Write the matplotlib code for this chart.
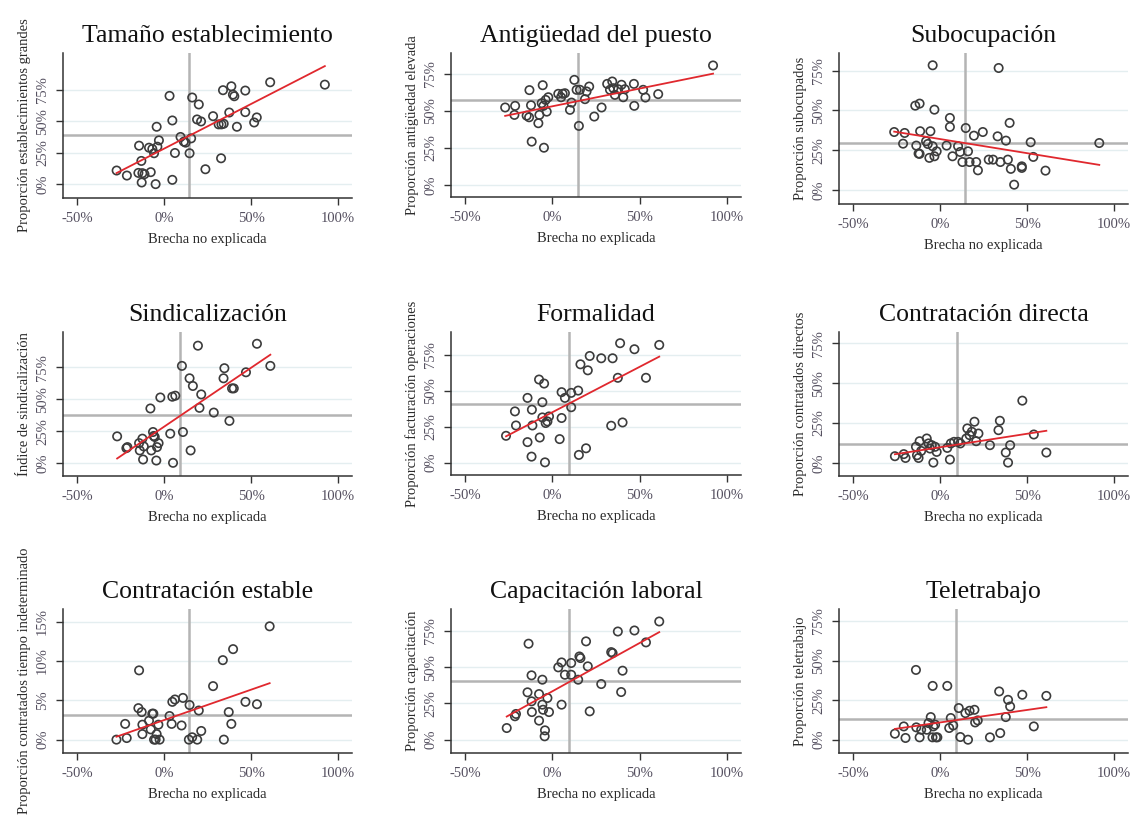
import matplotlib
matplotlib.use("Agg")
import matplotlib.pyplot as plt
import numpy as np
from matplotlib.ticker import FuncFormatter

plt.rcParams['font.family'] = ['Liberation Serif', 'DejaVu Serif']

# ---------------- data (x = Brecha no explicada %, y = proportion %) ----------------
titles = ["Tamaño establecimiento", "Antigüedad del puesto", "Subocupación",
          "Sindicalización", "Formalidad", "Contratación directa",
          "Contratación estable", "Capacitación laboral", "Teletrabajo"]
ylabels = ["Proporción establecimientos grandes", "Proporción antigüedad elevada",
           "Proporción subocupados", "Índice de sindicalización",
           "Proporción facturación operaciones", "Proporción contratados directos",
           "Proporción contratados tiempo indeterminado", "Proporción capacitación",
           "Proporción teletrabajo"]
xlabel = "Brecha no explicada"
xticks = [-50, 0, 50, 100]
yticks_pct = [0, 25, 50, 75]
yticks_estable = [0, 5, 10, 15]

x1 = [-27.2, -21.3, -14.3, -13.0, -14.7, -12.4, -12.8, -11.2, -7.6, -8.6, -6.7, -5.7, -4.2, -2.9, -4.8, -3.8,
      3.2, 4.8, 6.3, 4.8, 9.5, 11.4, 12.4, 14.7, 15.6, 16.2, 20.0, 19.0, 21.3, 23.8, 28.2, 31.4, 33.0, 34.3,
      32.8, 33.9, 38.7, 39.6, 40.4, 37.5, 41.9, 46.7, 46.7, 51.8, 53.3, 61.0, 92.4]
y1 = [10.8, 6.8, 30.5, 18.4, 8.9, 8.7, 1.3, 7.9, 9.5, 28.9, 27.9, 24.5, 45.5, 34.7, 0.0, 29.7,
      70.0, 50.5, 24.7, 3.4, 37.4, 33.7, 32.9, 24.5, 36.3, 68.7, 63.2, 51.3, 49.7, 11.8, 53.9, 47.4, 47.4, 47.9,
      20.5, 74.5, 77.6, 71.0, 69.7, 56.8, 45.5, 74.2, 57.1, 48.9, 52.9, 80.8, 78.9]

x2 = [-27.0, -21.3, -21.7, -13.1, -14.7, -13.3, -12.2, -11.8, -8.0, -7.4, -5.5, -6.1, -5.1, -4.8, -3.8, -3.2,
      -2.3, 3.4, 5.0, 5.9, 7.2, 10.1, 11.0, 12.6, 13.9, 15.2, 15.8, 18.7, 19.6, 21.1, 24.0, 28.2, 31.4, 34.3,
      33.0, 34.9, 35.8, 37.7, 39.6, 40.6, 41.5, 46.7, 46.9, 52.0, 53.3, 60.6, 92.0]
y2 = [52.3, 53.4, 47.3, 64.0, 46.8, 45.7, 53.8, 29.3, 41.7, 47.3, 67.3, 55.2, 53.4, 25.2, 57.4, 49.5,
      59.2, 61.5, 59.2, 61.5, 61.9, 50.7, 55.6, 70.9, 64.2, 39.9, 64.2, 57.9, 63.1, 66.4, 46.2, 52.3, 68.2, 69.8,
      64.2, 65.3, 60.8, 64.6, 67.6, 59.2, 64.6, 68.2, 53.4, 64.2, 59.0, 61.3, 80.6]

x3 = [-26.3, -20.3, -21.2, -14.2, -11.7, -13.6, -12.3, -11.7, -11.4, -8.0, -7.0, -5.5, -6.1, -4.2, -3.2, -3.2,
      -4.2, -1.9, 3.8, 5.7, 5.7, 7.2, 10.4, 11.6, 12.9, 14.8, 16.1, 17.0, 19.5, 20.8, 21.8, 24.6, 28.0, 30.5,
      33.1, 33.7, 34.7, 37.9, 39.0, 40.0, 40.7, 42.6, 47.0, 47.0, 52.1, 53.6, 60.6, 91.5]
y3 = [36.5, 35.9, 29.2, 53.0, 54.3, 28.0, 23.0, 22.8, 37.0, 30.7, 29.0, 37.0, 20.3, 78.3, 50.5, 21.3,
      27.6, 24.4, 28.0, 45.3, 39.7, 21.3, 27.6, 24.0, 17.7, 39.0, 24.4, 17.7, 34.2, 17.7, 12.5, 36.5, 19.2, 19.2,
      33.8, 76.6, 17.7, 31.1, 19.2, 42.2, 13.4, 3.5, 15.0, 14.0, 30.1, 20.9, 12.3, 29.6]

x4 = [-26.9, -21.6, -21.0, -14.3, -13.9, -12.4, -12.0, -11.6, -7.8, -7.3, -6.3, -5.9, -5.3, -4.4, -4.0, -3.1,
      -2.1, 3.6, 4.8, 6.5, 5.2, 10.3, 10.9, 14.7, 15.3, 16.6, 19.5, 20.4, 21.4, 28.6, 34.2, 34.7, 37.6, 39.1,
      40.1, 47.1, 53.4, 61.1]
y4 = [21.0, 11.8, 12.6, 15.7, 10.0, 19.2, 2.9, 13.1, 42.8, 10.0, 24.4, 21.3, 20.5, 2.1, 12.6, 15.7,
      51.4, 23.1, 52.0, 52.8, 0.3, 76.1, 24.4, 66.4, 10.0, 60.4, 91.9, 43.3, 53.8, 39.6, 66.4, 74.3, 33.1, 58.5,
      58.5, 71.1, 93.4, 76.1]

x5 = [-26.5, -21.4, -20.8, -14.2, -14.2, -11.9, -11.7, -11.4, -7.6, -7.2, -5.7, -4.7, -5.7, -4.2, -3.8, -2.8,
      -1.9, 4.2, 5.3, 5.3, 7.2, 10.8, 10.8, 14.8, 15.2, 16.1, 19.3, 20.3, 21.4, 28.0, 34.5, 33.7, 37.5, 38.8,
      40.2, 47.0, 53.6, 61.2]
y5 = [18.7, 35.7, 25.9, 45.1, 14.3, 4.2, 36.9, 25.9, 57.9, 17.5, 42.1, 55.1, 31.5, 0.2, 27.6, 28.7,
      32.2, 16.4, 49.1, 31.1, 45.1, 48.6, 38.6, 50.2, 5.4, 68.5, 10.0, 64.3, 74.3, 72.7, 72.7, 25.7, 59.1, 83.2,
      28.0, 79.0, 59.1, 82.0]

x6 = [-25.9, -20.8, -19.8, -13.8, -13.2, -12.3, -11.7, -10.8, -7.6, -6.6, -5.7, -4.7, -3.8, -2.8, -1.9, 4.2,
      5.7, 6.2, 8.1, 10.4, 11.7, 15.1, 15.7, 17.0, 18.3, 19.8, 20.8, 22.1, 28.7, 34.4, 33.6, 37.8, 39.1, 40.3,
      47.3, 53.9, 61.1]
y6 = [4.2, 5.5, 3.1, 10.1, 4.8, 3.1, 13.6, 7.5, 15.3, 12.2, 9.0, 11.1, 0.2, 10.1, 6.9, 9.4,
      2.1, 12.2, 13.2, 13.2, 12.2, 15.3, 21.6, 17.4, 19.5, 25.8, 13.6, 18.4, 11.1, 26.4, 20.5, 6.5, 0.2, 11.1,
      39.0, 17.8, 6.5]

x7 = [-27.3, -22.3, -21.4, -14.7, -14.3, -12.8, -12.4, -12.4, -8.6, -7.6, -6.7, -6.1, -5.7, -4.8, -4.2, -3.2,
      -2.5, 3.2, 4.4, 4.8, 6.3, 10.1, 10.9, 14.7, 14.3, 16.2, 19.1, 20.0, 21.4, 28.2, 33.8, 34.4, 37.2, 38.7,
      39.7, 46.8, 53.4, 60.7]
y7 = [0.0, 2.0, 0.2, 4.0, 8.8, 3.5, 1.9, 0.7, 2.4, 1.3, 3.3, 3.3, 0.0, 0.0, 0.7, 1.9,
      0.0, 3.0, 2.0, 4.8, 5.1, 1.8, 5.3, 4.4, 0.0, 0.3, 0.0, 3.7, 1.1, 6.8, 10.1, 0.0, 3.5, 2.0,
      11.5, 4.8, 4.5, 14.4]

x8 = [-26.1, -21.4, -20.8, -13.6, -14.2, -11.9, -11.9, -11.7, -7.6, -7.6, -5.7, -5.7, -5.3, -4.2, -4.4, -2.8,
      -1.9, 3.4, 5.3, 5.3, 7.2, 10.8, 10.8, 14.8, 15.5, 16.1, 19.3, 20.3, 21.4, 28.0, 33.7, 34.5, 37.5, 39.4,
      40.2, 47.0, 53.6, 61.2]
y8 = [8.0, 16.1, 17.7, 66.1, 32.6, 44.3, 26.4, 19.0, 13.1, 31.4, 41.3, 24.1, 20.6, 6.4, 2.3, 28.7,
      19.0, 49.8, 53.2, 24.1, 44.7, 52.8, 44.7, 41.3, 57.3, 56.2, 67.7, 50.5, 19.5, 38.3, 60.3, 59.6, 74.5, 32.8,
      47.5, 75.2, 67.0, 81.4]

x9 = [-25.9, -20.8, -19.8, -13.8, -13.6, -11.7, -10.8, -7.6, -6.6, -5.3, -4.2, -4.3, -3.8, -2.8, -2.3, -1.5,
      4.2, 5.3, 6.2, 7.6, 10.8, 11.7, 14.6, 16.1, 17.0, 19.8, 20.2, 21.7, 28.7, 34.0, 34.6, 37.8, 39.1, 40.3,
      47.3, 53.9, 61.1]
y9 = [3.8, 8.4, 1.1, 44.1, 7.8, 1.5, 6.3, 6.3, 10.5, 14.3, 34.0, 1.5, 8.4, 9.5, 1.5, 1.5,
      34.0, 7.4, 13.7, 9.0, 20.0, 1.7, 16.8, 0.0, 18.3, 18.9, 10.9, 12.2, 1.5, 30.5, 4.2, 14.3, 25.2, 21.0,
      28.4, 8.4, 27.7]

xs = [x1, x2, x3, x4, x5, x6, x7, x8, x9]
ys = [y1, y2, y3, y4, y5, y6, y7, y8, y9]

# reference lines (means) and linear fit (intercept, slope)
ref_x = [14.3, 14.9, 14.4, 9.2, 9.5, 9.5, 14.3, 9.5, 9.1]
ref_y = [38.7, 57.2, 29.6, 37.5, 41.1, 11.7, 3.17, 40.1, 13.2]
fit_intercept = [28.1, 53.1, 32.1, 28.5, 35.1, 9.8, 2.48, 33.3, 10.9]
fit_slope = [0.709, 0.239, -0.177, 0.922, 0.633, 0.169, 0.0773, 0.666, 0.158]
ylims = [(-11, 104), (-8, 89), (-8.6, 86), (-10, 102.6), (-8.6, 91), (-8.2, 82),
         (-1.7, 16.6), (-9.2, 90), (-8.4, 82.6)]

# ---------------- layout (pixel boxes: left, right, top, bottom) ----------------
W, H = 1134, 824
boxes = [(63, 352, 53, 198), (451, 741, 53, 197), (839, 1128, 53, 204),
         (63, 352, 332, 476), (451, 741, 332, 475), (839, 1128, 332, 476),
         (63, 352, 609, 753), (451, 741, 609, 753), (839, 1128, 609, 753)]

fig = plt.figure(figsize=(W / 100, H / 100), dpi=100)
fig.patch.set_facecolor('white')

txt = '#2b2b2b'
pct = FuncFormatter(lambda v, p: f"{v:.0f}%")

for i in range(9):
    l, r, t, b = boxes[i]
    ax = fig.add_axes([l / W, 1 - b / H, (r - l) / W, (b - t) / H])
    yt = yticks_estable if i == 6 else yticks_pct
    for v in yt:
        ax.axhline(v, color='#e4eef0', lw=1.0, zorder=0)
    ax.axhline(ref_y[i], color='#b4b4b4', lw=1.8, zorder=1)
    ax.axvline(ref_x[i], color='#b4b4b4', lw=1.8, zorder=1)
    ax.scatter(xs[i], ys[i], s=36, facecolors='none', edgecolors='#3c3c3c',
               linewidths=1.2, zorder=3)
    xx = np.array([min(xs[i]), max(xs[i])])
    ax.plot(xx, fit_intercept[i] + fit_slope[i] * xx, color='#e0282e', lw=1.3, zorder=4)

    ax.set_xlim(-58, 108)
    ax.set_ylim(*ylims[i])
    ax.set_xticks(xticks)
    ax.set_yticks(yt)
    ax.xaxis.set_major_formatter(pct)
    ax.yaxis.set_major_formatter(pct)
    for s in ['top', 'right']:
        ax.spines[s].set_visible(False)
    for s in ['left', 'bottom']:
        ax.spines[s].set_color('#333333')
        ax.spines[s].set_linewidth(1.1)
    ax.tick_params(axis='both', direction='out', length=5, width=1.0, color='#333333',
                   labelsize=10.5, labelcolor='#555060', pad=5)
    for lab in ax.get_yticklabels():
        lab.set_rotation(90)
        lab.set_va('center')
    ax.set_title(titles[i], fontsize=18.5, color='#111111', pad=8)
    ax.set_xlabel(xlabel, fontsize=10.5, color=txt, labelpad=6)
    ax.set_ylabel(ylabels[i], fontsize=10.5, color=txt, labelpad=4)

fig.savefig('out.png', dpi=100, facecolor='white')
